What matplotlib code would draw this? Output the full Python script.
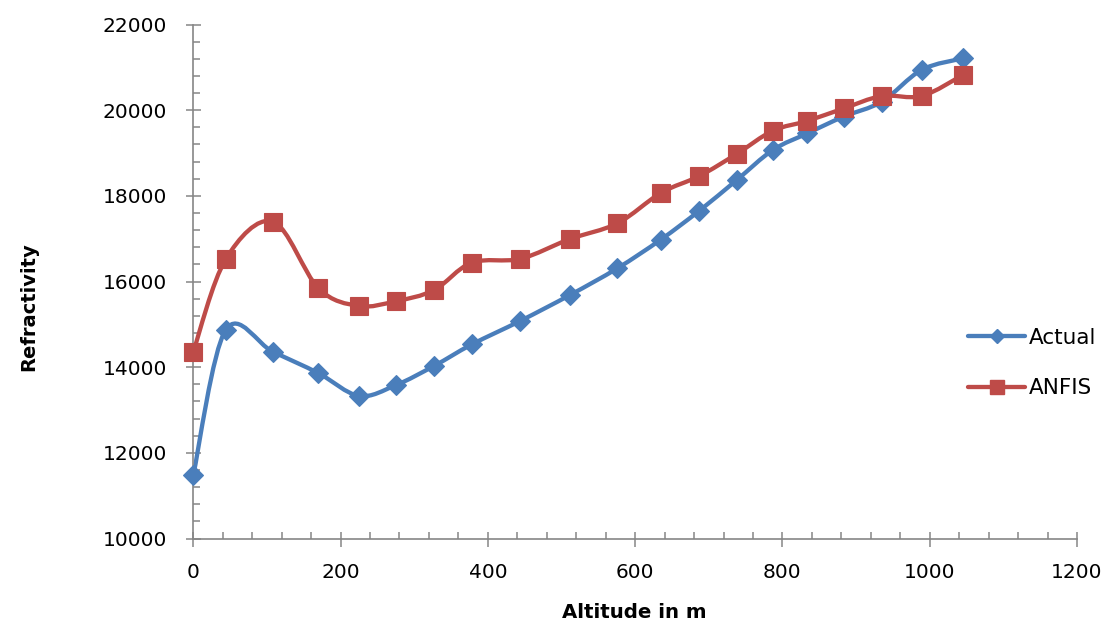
import numpy as np
import matplotlib.pyplot as plt
from matplotlib.path import Path
from matplotlib.patches import PathPatch
from matplotlib.lines import Line2D
from matplotlib.ticker import MultipleLocator

altitude = [0, 44, 108, 170, 225, 275, 327, 378, 444, 511,
            576, 635, 687, 738, 787, 834, 883, 935, 989, 1045]
actual = [11480, 14870, 14360, 13860, 13330, 13580, 14030, 14530, 15080, 15680,
          16310, 16980, 17650, 18370, 19070, 19460, 19850, 20200, 20940, 21210]
anfis = [14360, 16520, 17400, 15840, 15430, 15540, 15800, 16440, 16530, 16990,
         17360, 18070, 18460, 18980, 19520, 19750, 20040, 20330, 20330, 20820]

BLUE = '#4A7EBB'
RED = '#BE4B48'
GREY = '#868686'


def smooth_path(x, y):
    # excel style smoothed line: catmull-rom segments drawn as cubic beziers
    pts = np.column_stack([x, y]).astype(float)
    ext = np.vstack([pts[0], pts, pts[-1]])
    verts = [pts[0]]
    codes = [Path.MOVETO]
    for i in range(1, len(ext) - 2):
        p0, p1, p2, p3 = ext[i - 1], ext[i], ext[i + 1], ext[i + 2]
        verts += [p1 + (p2 - p0) / 6, p2 - (p3 - p1) / 6, p2]
        codes += [Path.CURVE4] * 3
    return Path(verts, codes)


fig = plt.figure(figsize=(11.02, 6.22), dpi=100)
ax = fig.add_axes([0.1754, 0.1342, 0.8019, 0.8264])

series = [(actual, BLUE, 'D', 10, 'Actual'), (anfis, RED, 's', 13.5, 'ANFIS')]
handles = []
z = 2
for vals, col, mk, ms, name in series:
    ax.add_patch(PathPatch(smooth_path(altitude, vals), facecolor='none',
                           edgecolor=col, lw=3.1, capstyle='round',
                           joinstyle='round', zorder=z, clip_on=False))
    ax.plot(altitude, vals, linestyle='none', marker=mk, ms=ms, color=col,
            mec=col, mew=0.8, zorder=z + 1, clip_on=False)
    handles.append(Line2D([], [], color=col, lw=3.1, marker=mk,
                          ms=ms * 0.72, mec=col, solid_capstyle='round'))
    z += 2

ax.set_xlim(0, 1200)
ax.set_ylim(10000, 22000)
ax.xaxis.set_major_locator(MultipleLocator(200))
ax.xaxis.set_minor_locator(MultipleLocator(40))
ax.yaxis.set_major_locator(MultipleLocator(2000))
ax.yaxis.set_minor_locator(MultipleLocator(400))

for s in ['top', 'right']:
    ax.spines[s].set_visible(False)
for s in ['left', 'bottom']:
    ax.spines[s].set_color(GREY)
    ax.spines[s].set_linewidth(1.2)

ax.tick_params(which='major', direction='inout', length=10.8, width=1.1,
               color=GREY, labelsize=14.5)
ax.tick_params(axis='y', which='major', pad=13.3)
ax.tick_params(axis='x', which='major', pad=12.5)
ax.tick_params(which='minor', direction='in', length=5, width=1.1, color=GREY)

fig.text(28.7 / 1102, 1 - 307 / 622, 'Refractivity', rotation=90,
         ha='center', va='center', fontsize=14, fontweight='bold')
fig.text(634 / 1102, 1 - 613 / 622, 'Altitude in m',
         ha='center', va='center', fontsize=14.2, fontweight='bold')

ax.legend(handles, [s[4] for s in series], loc='center left',
          bbox_to_anchor=(968 / 1102, 1 - 363 / 622),
          bbox_transform=fig.transFigure, frameon=False, fontsize=15.5,
          handlelength=2.65, handletextpad=0.18, labelspacing=1.42,
          borderpad=0, borderaxespad=0, numpoints=1)

fig.savefig('out.png', dpi=100)
